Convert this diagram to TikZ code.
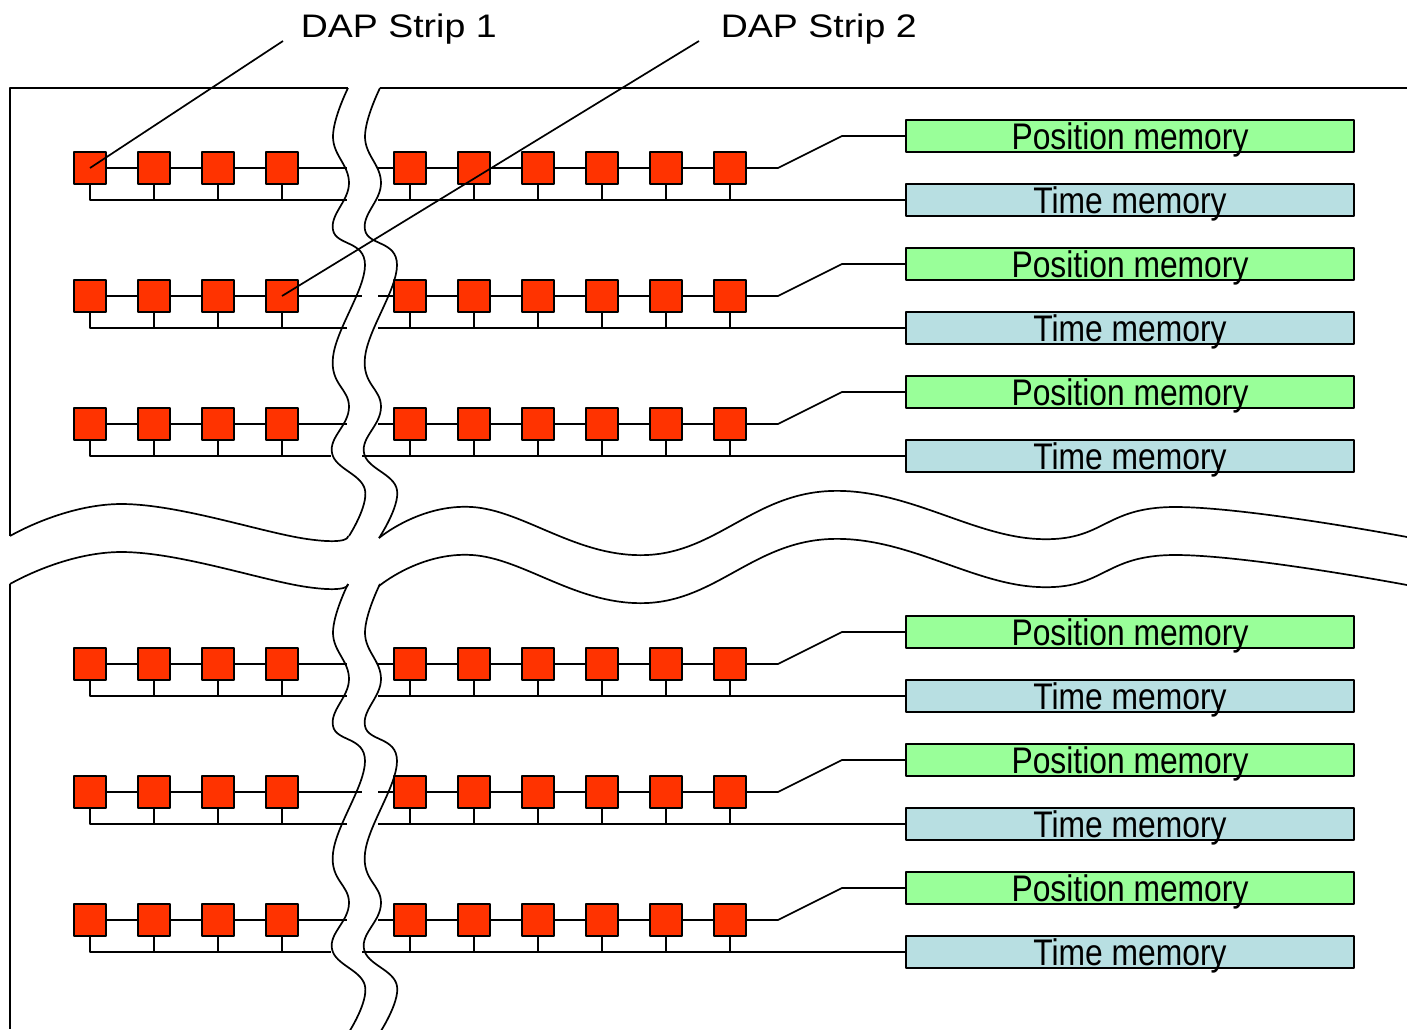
\documentclass[tikz,border=0pt]{standalone}
\usepackage{fontspec}
\setmainfont{Liberation Sans}

\definecolor{chipred}{RGB}{255,51,0}
\definecolor{posgreen}{RGB}{153,255,153}
\definecolor{timeblue}{RGB}{184,223,226}

\newcommand\memfont{\fontsize{37}{44}\selectfont}
\newcommand\dapfont{\fontsize{32.6}{40}\selectfont}
\newcommand\memlabel[1]{\scalebox{0.86}[1]{#1}}
\newcommand\daplabel[1]{\scalebox{1.15}[1]{#1}}

% one panel: three strips of chips with their position and time memories
% #1 panel tag, #2 vertical offset
\newcommand\drawpanel[2]{%
  \foreach \r/\ry/\cl/\bl/\br in {1/168/347/347/378,2/296/362/347/378,3/424/347/331/362}{%
    \pgfmathsetmacro\yy{\ry+#2}%
    \foreach \i/\x in {1/90,2/154,3/218,4/282,5/410,6/474,7/538,8/602,9/666,10/730}
      \node[chip] (sq-#1\r-\i) at (\x,\yy) {};
    \node[posmem] (pos-#1\r) at (1130,\yy-32) {\memlabel{Position memory}};
    \node[timemem] (time-#1\r) at (1130,\yy+32) {\memlabel{Time memory}};
    % daisy chain through the chips
    \foreach \i [evaluate=\i as \j using int(\i+1)] in {1,2,3,5,6,7,8,9}
      \draw (sq-#1\r-\i.east) -- (sq-#1\r-\j.west);
    \draw (sq-#1\r-4.east) -- (\cl,\yy);
    \draw (378,\yy) -- (sq-#1\r-5.west);
    \draw (sq-#1\r-10.east) -- (778,\yy) -- (842,\yy-32) -- (pos-#1\r.west);
    % common bus to the time memory
    \draw (sq-#1\r-1.south) |- (\bl,\yy+32);
    \draw (\br,\yy+32) -- (time-#1\r.west);
    \foreach \i in {2,...,10}
      \draw (sq-#1\r-\i.south) -- ++(0,16);
  }%
}

% the two wavy edges of the vertical cut
\newcommand\cutedges{%
  \draw plot[smooth,tension=0.7] coordinates {(348,88) (333,137) (349,183) (333,230) (365,265) (333,357) (349,407) (332,453) (365,490) (349,536)};
  \draw plot[smooth,tension=0.7] coordinates {(380,88) (365,137) (381,183) (365,230) (397,265) (365,357) (381,407) (364,453) (397,490) (379,538)};
}

% the wavy edge of the horizontal cut
\newcommand\hcutedge{%
  \draw plot[smooth,tension=0.7] coordinates {(10,536) (123,504) (307,539) (348,536)};
  \draw plot[smooth,tension=0.7] coordinates {(379,538) (472,507) (647,555) (830,491) (1038,539) (1174,507) (1407,537)};
}

\begin{document}
\begin{tikzpicture}[x=1pt,y=-1pt,line width=1.7pt,line join=round,
  chip/.style={draw,fill=chipred,minimum size=32pt,inner sep=0pt},
  membox/.style={draw,minimum width=448pt,minimum height=32pt,inner sep=0pt,
    text height=28pt,text depth=2pt,font=\memfont},
  posmem/.style={membox,fill=posgreen},
  timemem/.style={membox,fill=timeblue},
  daptext/.style={inner sep=0pt,anchor=base west,font=\dapfont}]

\fill[white] (0,0) rectangle (1407,1029);
\useasboundingbox (0,0) rectangle (1407,1029);

% upper panel frame
\draw (348,88) -- (10,88) -- (10,536);
\draw (380,88) -- (1407,88);
\hcutedge
\cutedges

% lower panel frame
\draw (10,584) -- (10,1029);
\begin{scope}[shift={(0,48)}]
  \hcutedge
\end{scope}
\begin{scope}[shift={(0,496)}]
  \cutedges
\end{scope}

\drawpanel{a}{0}
\drawpanel{b}{496}

% strip labels with leader lines
\node[daptext] (dap1) at (300,37) {\daplabel{DAP Strip 1}};
\node[daptext] (dap2) at (720,37) {\daplabel{DAP Strip 2}};
\coordinate (lead1) at (283,41);
\coordinate (lead2) at (699,41);
\draw (lead1) -- (sq-a1-1.center);
\draw (lead2) -- (sq-a2-4.center);

\end{tikzpicture}
\end{document}
